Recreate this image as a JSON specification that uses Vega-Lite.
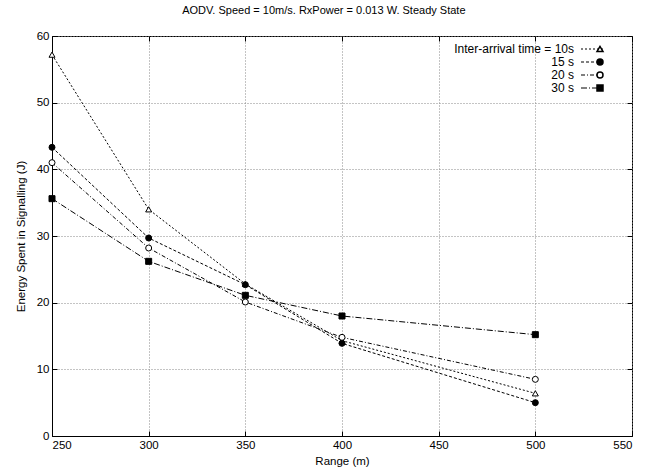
{
  "$schema": "https://vega.github.io/schema/vega-lite/v6.json",
  "width": 580,
  "height": 400,
  "autosize": {"type": "none"},
  "padding": {"left": 52, "top": 36, "right": 13, "bottom": 39},
  "background": "white",
  "title": {
    "text": "AODV. Speed = 10m/s. RxPower = 0.013 W. Steady State",
    "font": "Liberation Sans",
    "fontSize": 11,
    "fontWeight": "normal",
    "color": "black",
    "anchor": "middle",
    "frame": "bounds",
    "offset": 14
  },
  "config": {
    "font": "Liberation Sans",
    "view": {"stroke": "black", "strokeWidth": 1},
    "axis": {
      "labelFont": "Liberation Sans",
      "labelFontSize": 11.5,
      "labelColor": "black",
      "titleFont": "Liberation Sans",
      "titleFontSize": 11.5,
      "titleFontWeight": "normal",
      "titleColor": "black",
      "domainColor": "black",
      "tickColor": "black",
      "gridColor": "#888888",
      "gridDash": [1, 2],
      "gridWidth": 1
    },
    "legend": {
      "labelFont": "Liberation Sans",
      "labelFontSize": 12,
      "labelColor": "black",
      "padding": 0
    }
  },
  "data": {
    "values": [
      {"range": 250, "energy": 57.2, "series": "Inter-arrival time = 10s", "interval": 10},
      {"range": 300, "energy": 34.0, "series": "Inter-arrival time = 10s", "interval": 10},
      {"range": 350, "energy": 22.8, "series": "Inter-arrival time = 10s", "interval": 10},
      {"range": 400, "energy": 14.3, "series": "Inter-arrival time = 10s", "interval": 10},
      {"range": 500, "energy": 6.4, "series": "Inter-arrival time = 10s", "interval": 10},
      {"range": 250, "energy": 43.3, "series": "15 s", "interval": 15},
      {"range": 300, "energy": 29.7, "series": "15 s", "interval": 15},
      {"range": 350, "energy": 22.7, "series": "15 s", "interval": 15},
      {"range": 400, "energy": 13.9, "series": "15 s", "interval": 15},
      {"range": 500, "energy": 5.0, "series": "15 s", "interval": 15},
      {"range": 250, "energy": 41.0, "series": "20 s", "interval": 20},
      {"range": 300, "energy": 28.2, "series": "20 s", "interval": 20},
      {"range": 350, "energy": 20.1, "series": "20 s", "interval": 20},
      {"range": 400, "energy": 14.8, "series": "20 s", "interval": 20},
      {"range": 500, "energy": 8.5, "series": "20 s", "interval": 20},
      {"range": 250, "energy": 35.6, "series": "30 s", "interval": 30},
      {"range": 300, "energy": 26.2, "series": "30 s", "interval": 30},
      {"range": 350, "energy": 21.1, "series": "30 s", "interval": 30},
      {"range": 400, "energy": 18.0, "series": "30 s", "interval": 30},
      {"range": 500, "energy": 15.2, "series": "30 s", "interval": 30}
    ]
  },
  "resolve": {"axis": {"x": "independent", "y": "independent"}},
  "layer": [
    {
      "mark": {"type": "line", "color": "black", "strokeWidth": 1},
      "encoding": {
        "x": {
          "field": "range",
          "type": "quantitative",
          "scale": {"domain": [250, 550], "nice": false},
          "axis": {
            "title": "Range (m)",
            "values": [250, 300, 350, 400, 450, 500, 550],
            "grid": true,
            "tickSize": -5,
            "labelPadding": 8,
            "titlePadding": 5
          }
        },
        "y": {
          "field": "energy",
          "type": "quantitative",
          "scale": {"domain": [0, 60], "nice": false},
          "axis": {
            "title": "Energy Spent in Signalling (J)",
            "values": [0, 10, 20, 30, 40, 50, 60],
            "grid": true,
            "tickSize": -5,
            "labelPadding": 8,
            "titlePadding": 10
          }
        },
        "strokeDash": {
          "field": "series",
          "type": "nominal",
          "scale": {
            "domain": ["Inter-arrival time = 10s", "15 s", "20 s", "30 s"],
            "range": [[2, 2], [3, 2], [4, 2, 1, 2], [6, 2, 1, 2]]
          },
          "legend": {
            "title": null,
            "orient": "none",
            "legendX": 534,
            "legendY": 7,
            "symbolType": "M-2,0H2",
            "symbolSize": 121,
            "symbolStrokeColor": "black",
            "symbolStrokeWidth": 1,
            "labelAlign": "right",
            "labelOffset": -24,
            "rowPadding": 1
          }
        }
      }
    },
    {
      "mark": {"type": "point", "filled": true, "stroke": "black", "strokeWidth": 1, "size": 36, "opacity": 1},
      "encoding": {
        "x": {"field": "range", "type": "quantitative", "axis": null},
        "y": {"field": "energy", "type": "quantitative", "axis": null},
        "shape": {
          "field": "interval",
          "type": "ordinal",
          "scale": {"range": ["triangle-up", "circle", "circle", "square"]},
          "legend": {
            "title": null,
            "orient": "none",
            "legendX": 542,
            "legendY": 7,
            "labelExpr": "' '",
            "rowPadding": 1,
            "symbolSize": 36,
            "encode": {"symbols": {"update": {"stroke": {"value": "black"}, "strokeWidth": {"value": 1}, "opacity": {"value": 1}}}}
          }
        },
        "fill": {
          "field": "interval",
          "type": "ordinal",
          "scale": {"range": ["white", "black", "white", "black"]},
          "legend": {
            "title": null,
            "orient": "none",
            "legendX": 542,
            "legendY": 7,
            "labelExpr": "' '",
            "rowPadding": 1,
            "symbolSize": 36,
            "encode": {"symbols": {"update": {"stroke": {"value": "black"}, "strokeWidth": {"value": 1}, "opacity": {"value": 1}}}}
          }
        }
      }
    },
    {
      "mark": {"type": "point", "opacity": 0},
      "encoding": {
        "x": {
          "field": "range",
          "type": "quantitative",
          "axis": {
            "orient": "top",
            "values": [250, 300, 350, 400, 450, 500, 550],
            "labels": false,
            "title": null,
            "grid": false,
            "domain": false,
            "tickSize": -5
          }
        },
        "y": {
          "field": "energy",
          "type": "quantitative",
          "axis": {
            "orient": "right",
            "values": [0, 10, 20, 30, 40, 50, 60],
            "labels": false,
            "title": null,
            "grid": false,
            "domain": false,
            "tickSize": -5
          }
        }
      }
    }
  ]
}
